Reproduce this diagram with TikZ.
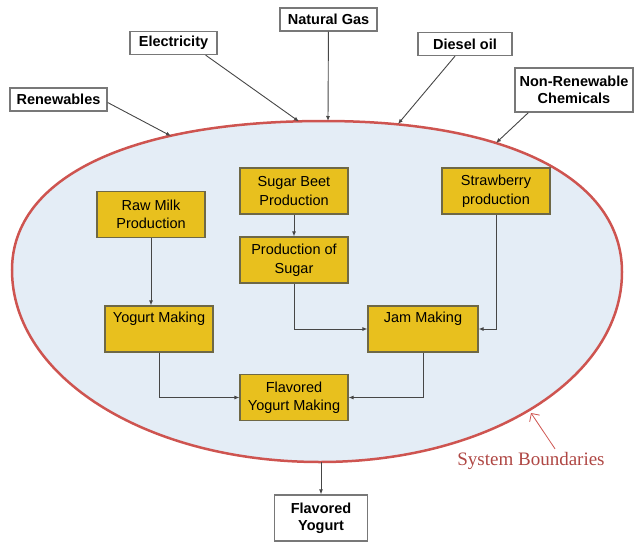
\documentclass[tikz,border=0pt]{standalone}
\usepackage{fontspec}
\setmainfont{Liberation Sans}
\newfontfamily\bndfont{Liberation Serif}
\usetikzlibrary{arrows.meta,positioning}
\definecolor{sysblue}{RGB}{228,237,246}
\definecolor{sysred}{RGB}{206,84,80}
\definecolor{stepgold}{RGB}{232,192,30}
\definecolor{stepedge}{RGB}{110,104,70}
\definecolor{inedge}{RGB}{120,120,120}
\definecolor{arrgray}{RGB}{70,70,70}

\begin{document}
\begin{tikzpicture}[x=1pt,y=-1pt,
  inbox/.style={draw=inedge,fill=white,line width=1.3pt,align=center,
    font=\fontsize{14.5}{17}\selectfont\bfseries,inner sep=2pt,minimum height=23pt},
  stepbox/.style={draw=stepedge,fill=stepgold,line width=1.2pt,align=center,
    font=\fontsize{14.5}{18.5}\selectfont,minimum width=108pt,minimum height=46pt,inner sep=2pt},
  arr/.style={-{Latex[length=5pt,width=4pt]},arrgray,line width=0.9pt}]
  \useasboundingbox (0,0) rectangle (640,541);

  % system boundary
  \draw[sysred,fill=sysblue,line width=2.5pt]
    (12,270) .. controls (12,177) and (130.6,121) .. (324,121)
    .. controls (508.8,121) and (622,178.4) .. (622,272)
    .. controls (622,378.4) and (489,462) .. (320,462)
    .. controls (147.5,462) and (12,377.5) .. cycle;
  \coordinate (inRen) at (171,136);
  \coordinate (inElec) at (299,121.5);
  \coordinate (inGas) at (328,121);
  \coordinate (inDiesel) at (398,124);
  \coordinate (inChem) at (496,143);
  \coordinate (outFlav) at (321,462);
  \coordinate (bndPt) at (531,413);

  % inputs
  \node[inbox,minimum width=97pt] (ren) at (58.5,99.5) {Renewables};
  \node[inbox,minimum width=87pt] (elec) at (173.5,43) {Electricity};
  \node[inbox,minimum width=97pt] (gas) at (328.5,19.5) {Natural Gas};
  \node[inbox,minimum width=94pt] (diesel) at (465,44) {Diesel oil};
  \node[inbox,minimum width=118pt,minimum height=44pt] (chem) at (574,90)
    {Non-Renewable\\Chemicals};

  % process steps
  \node[stepbox] (milk) at (151,214.5) {Raw Milk\\Production};
  \node[stepbox] (beet) at (294,191) {Sugar Beet\\Production};
  \node[stepbox] (sugar) at (294,260) {Production of\\Sugar};
  \node[stepbox] (straw) at (496,191) {Strawberry\\production};
  \node[stepbox] (yog) at (159,329) {Yogurt Making\\\strut};
  \node[stepbox,minimum width=110pt] (jam) at (423,329) {Jam Making\\\strut};
  \node[stepbox] (flav) at (294,397.5) {Flavored\\Yogurt Making};

  % output
  \node[inbox,minimum width=93pt,minimum height=46pt] (out) at (321,518)
    {Flavored\\Yogurt};

  % label
  \node[text=sysred!85!black,font=\bndfont\fontsize{19}{22}\selectfont] (sysb)
    at (531,461) {System Boundaries};

  % arrows in
  \draw[arr] ([yshift=-3pt]ren.east) -- (inRen);
  \draw[arr] ([xshift=-12pt]elec.south east) -- (inElec);
  \draw[arr] (gas) -- (inGas);
  \draw[arr] ([xshift=-10pt]diesel.south) -- (inDiesel);
  \draw[arr] ([xshift=14pt]chem.south west) -- (inChem);

  % flows
  \draw[arr] (milk) -- (milk |- yog.north);
  \draw[arr] (beet) -- (sugar);
  \draw[arr] (sugar.south) |- (jam.west);
  \draw[arr] (straw.south) |- (jam.east);
  \draw[arr] (yog.south) |- (flav.west);
  \draw[arr] (jam.south) |- (flav.east);
  \draw[arr] (outFlav) -- (out);

  % boundary pointer
  \draw[-{Straight Barb[length=6pt]},sysred,line width=0.8pt]
    ([xshift=24pt]sysb.north) -- (bndPt);
\end{tikzpicture}
\end{document}
